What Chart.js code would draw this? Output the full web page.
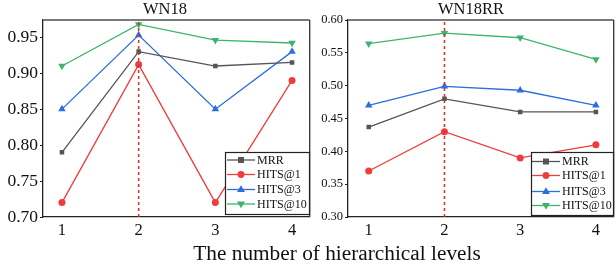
<!DOCTYPE html>
<html><head><meta charset="utf-8">
<script src="https://cdn.jsdelivr.net/npm/chart.js@4.4.1/dist/chart.umd.min.js"></script>
<style>
html,body{margin:0;padding:0;background:#fff;}
#wrap{position:relative;width:616px;height:271px;overflow:hidden;background:#fff;}
#c1box{position:absolute;left:0;top:0;width:314px;height:242px;}
#c2box{position:absolute;left:306px;top:0;width:312px;height:242px;}
#xt{position:absolute;left:0;top:240px;width:674px;text-align:center;font-family:"Liberation Serif",serif;font-size:21.3px;color:#111;line-height:26px;white-space:nowrap;}
</style></head>
<body>
<div id="wrap">
<div id="c1box"><canvas id="c1" width="314" height="242"></canvas></div>
<div id="c2box"><canvas id="c2" width="312" height="242"></canvas></div>
<div id="xt">The number of hierarchical levels</div>
</div>
<script>
// ---- data ----
const levels = [1, 2, 3, 4];
const seriesNames = ['MRR', 'HITS@1', 'HITS@3', 'HITS@10'];
const wn18_MRR    = [0.79, 0.93, 0.91, 0.915];
const wn18_H1     = [0.72, 0.912, 0.72, 0.89];
const wn18_H3     = [0.85, 0.953, 0.85, 0.93];
const wn18_H10    = [0.91, 0.968, 0.946, 0.942];
const wn18rr_MRR  = [0.437, 0.48, 0.46, 0.46];
const wn18rr_H1   = [0.37, 0.43, 0.39, 0.41];
const wn18rr_H3   = [0.47, 0.499, 0.493, 0.47];
const wn18rr_H10  = [0.564, 0.58, 0.573, 0.54];
const wn18Ticks   = [0.70, 0.75, 0.80, 0.85, 0.90, 0.95];
const wn18rrTicks = [0.30, 0.35, 0.40, 0.45, 0.50, 0.55, 0.60];
const bestLevel = 2;

const colors = ['#555555', '#f03c3c', '#2a6fe0', '#3db46d'];
const shapes = ['rect', 'circle', 'triangle', 'triangle'];
const rots = [0, 0, 0, 180];
const radii = [3.2, 3.5, 4.3, 4.3];
const serif = '"Liberation Serif", "DejaVu Serif", serif';

function pts(vals){ return levels.map((l,i)=>({x:l, y:vals[i]})); }

const framePlugin = {
  id:'frame',
  afterDatasetsDraw(chart, args, opts){
    const {ctx, chartArea:a} = chart;
    ctx.save();
    ctx.strokeStyle = '#7a7a7a'; ctx.lineWidth = 2;
    ctx.beginPath(); ctx.moveTo(a.left, a.top); ctx.lineTo(a.right, a.top); ctx.stroke();
    ctx.strokeStyle = '#333'; ctx.lineWidth = 1.3;
    ctx.beginPath(); ctx.moveTo(a.right, a.top); ctx.lineTo(a.right, a.bottom); ctx.stroke();
    ctx.restore();
  },
  afterDraw(chart, args, opts){
    const {ctx} = chart;
    ctx.save();
    // panel title
    ctx.fillStyle = '#111';
    ctx.font = '16.5px ' + serif;
    ctx.textAlign = 'center'; ctx.textBaseline = 'middle';
    ctx.fillText(opts.title, opts.titleX, 10);
    // legend
    const b = opts.box;
    ctx.textAlign = 'left';
    ctx.fillStyle = '#fff';
    ctx.fillRect(b[0], b[1], b[2]-b[0], b[3]-b[1]);
    ctx.strokeStyle = '#222'; ctx.lineWidth = 1.2;
    ctx.strokeRect(b[0]+0.5, b[1]+0.5, b[2]-b[0]-1, b[3]-b[1]-1);
    ctx.font = '12px ' + serif;
    for (let i=0;i<4;i++){
      const y = opts.rows[i];
      ctx.strokeStyle = colors[i]; ctx.lineWidth = 1.3;
      ctx.beginPath(); ctx.moveTo(opts.lx0, y); ctx.lineTo(opts.lx1, y); ctx.stroke();
      const mx=(opts.lx0+opts.lx1)/2;
      ctx.fillStyle = colors[i];
      if (shapes[i]==='rect'){ ctx.fillRect(mx-3,y-3,6,6); }
      else if (shapes[i]==='circle'){ ctx.beginPath(); ctx.arc(mx,y,3.4,0,Math.PI*2); ctx.fill(); }
      else { const r=4.2, s=rots[i]===180?-1:1; ctx.beginPath(); ctx.moveTo(mx, y - s*r); ctx.lineTo(mx+r*0.95, y + s*r*0.6); ctx.lineTo(mx-r*0.95, y + s*r*0.6); ctx.closePath(); ctx.fill(); }
      ctx.fillStyle = '#111';
      ctx.fillText(seriesNames[i], opts.tx, y+0.5);
    }
    ctx.restore();
  }
};

function makeChart(id, vals, ticks, yMin, yMax, xMin, xMax, yW, yFont, frameOpts){
  const ds = [{
    label:'best', data:[{x:bestLevel,y:yMin},{x:bestLevel,y:yMax}],
    borderColor:'#e8262a', borderWidth:1.5, borderDash:[3,3], pointRadius:0, fill:false, order:-1
  }];
  vals.forEach((v,i)=>{
    ds.push({label:seriesNames[i], data:pts(v), borderColor:colors[i], backgroundColor:colors[i],
      borderWidth:1.3, pointStyle:shapes[i], pointRadius:radii[i], pointRotation:rots[i], pointBorderWidth:0,
      pointBackgroundColor:colors[i], fill:false, tension:0, order:i});
  });
  return new Chart(document.getElementById(id), {
    type:'line',
    data:{datasets:ds},
    plugins:[framePlugin],
    options:{
      responsive:false, animation:false, events:[],
      layout:{padding:{top:20,left:0,right:0,bottom:0}},
      plugins:{
        legend:{display:false}, tooltip:{enabled:false}, title:{display:false},
        frame:frameOpts
      },
      scales:{
        x:{type:'linear', min:xMin, max:xMax,
          afterBuildTicks(s){ s.ticks = levels.map(v=>({value:v})); },
          afterFit(s){ s.height = 25; },
          grid:{display:true, drawOnChartArea:false, drawTicks:false},
          border:{color:'#222', width:1.3},
          ticks:{color:'#111', padding:4, font:{family:serif, size:16.5}, callback:v=>String(v), maxRotation:0}
        },
        y:{type:'linear', min:yMin, max:yMax,
          afterBuildTicks(s){ s.ticks = ticks.map(v=>({value:v})); },
          afterFit(s){ s.width = yW; },
          grid:{display:true, drawOnChartArea:false, drawTicks:true, tickLength:3, color:'#222', lineWidth:1},
          border:{color:'#222', width:1.3},
          ticks:{color:'#111', padding:2, font:{family:serif, size:yFont}, callback:v=>Number(v).toFixed(2)}
        }
      }
    }
  });
}

makeChart('c1', [wn18_MRR, wn18_H1, wn18_H3, wn18_H10], wn18Ticks, 0.70, 0.974, 0.753, 4.23, 43, 17.5,
  {title:'WN18', titleX:165, box:[225, 152, 310, 215], rows:[160, 174.5, 189.5, 204], lx0:227, lx1:255, tx:257});
makeChart('c2', [wn18rr_MRR, wn18rr_H1, wn18rr_H3, wn18rr_H10], wn18rrTicks, 0.30, 0.60, 0.726, 4.235, 42, 12.5,
  {title:'WN18RR', titleX:165, box:[225, 152, 308, 216], rows:[161.5, 175.5, 191.5, 205.5], lx0:226, lx1:254, tx:256});
</script>
</body></html>
